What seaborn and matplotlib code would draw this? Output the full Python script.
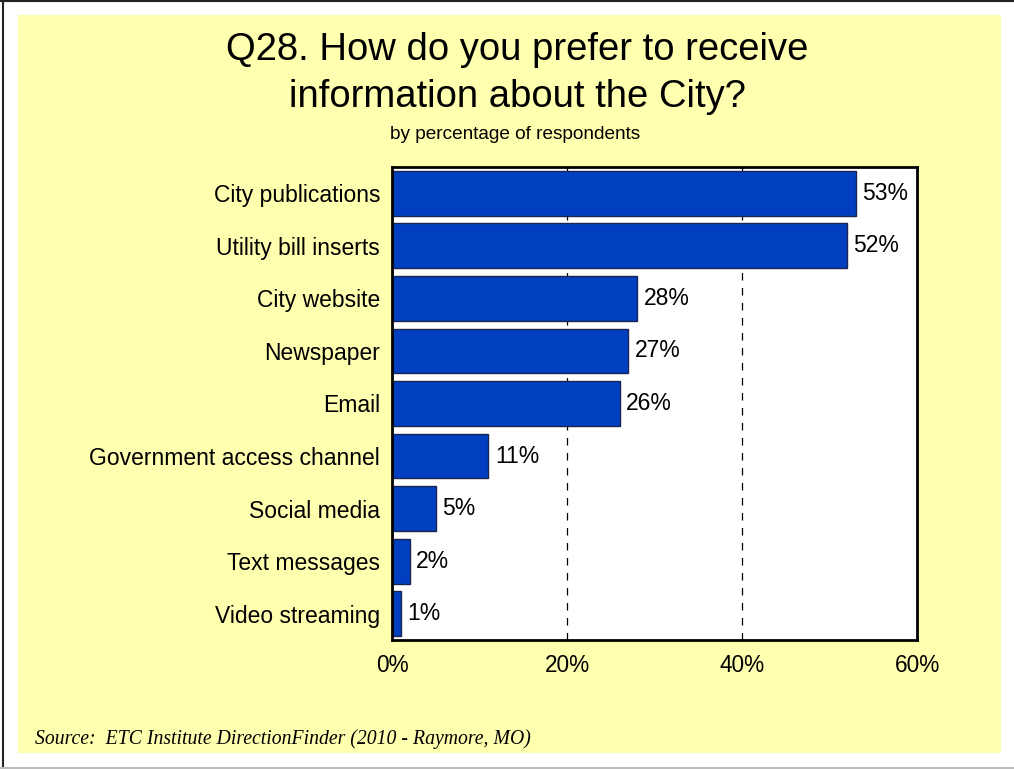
import matplotlib
matplotlib.use("Agg")
import matplotlib.pyplot as plt
import seaborn as sns
import pandas as pd
from matplotlib.patches import Rectangle
from matplotlib.lines import Line2D

# Survey responses: preferred ways of receiving information about the City
channels = [
    "City publications",
    "Utility bill inserts",
    "City website",
    "Newspaper",
    "Email",
    "Government access channel",
    "Social media",
    "Text messages",
    "Video streaming",
]
percents = [53, 52, 28, 27, 26, 11, 5, 2, 1]
tick_values = [0, 20, 40, 60]
tick_labels = ["0%", "20%", "40%", "60%"]

df = pd.DataFrame({"channel": channels, "pct": percents})

sns.set_theme(style="white")
plt.rcParams["font.family"] = ["Liberation Sans", "DejaVu Sans"]
plt.rcParams["text.color"] = "black"
plt.rcParams["xtick.color"] = "black"
plt.rcParams["ytick.color"] = "black"

W, H = 1014, 769
fig = plt.figure(figsize=(W / 100, H / 100), dpi=100)
fig.patch.set_facecolor("white")

# slide background panel and frame
fig.add_artist(Rectangle((18 / W, 1 - 753 / H), (1001 - 18) / W, (753 - 15) / H,
                         transform=fig.transFigure, facecolor="#FFFFB0",
                         edgecolor="none", zorder=0))
fig.add_artist(Line2D([0, 1], [1 - 0.5 / H, 1 - 0.5 / H], transform=fig.transFigure,
                      color="#222222", lw=1.5))
fig.add_artist(Line2D([2.5 / W, 2.5 / W], [1 - 768 / H, 1], transform=fig.transFigure,
                      color="#222222", lw=1.5))
fig.add_artist(Line2D([0, 1], [1 - 768 / H, 1 - 768 / H], transform=fig.transFigure,
                      color="#BBBBBB", lw=1.5))

ax = fig.add_axes([392 / W, 1 - 640 / H, 525 / W, 473 / H])
ax.set_facecolor("white")

sns.barplot(data=df, x="pct", y="channel", orient="h", color="#0040C0",
            saturation=1, edgecolor="#1C2450", linewidth=1.0, width=0.85, ax=ax)

ax.set_xlim(0, 60)
ax.set_ylim(len(channels) - 0.5, -0.5)
ax.set_xticks(tick_values)
ax.set_xticklabels(tick_labels, fontsize=16.3)
ax.tick_params(axis="x", length=0, pad=10, colors="black")
ax.tick_params(axis="y", length=0, pad=8.5, labelsize=16.5, colors="black")
ax.set_xlabel("")
ax.set_ylabel("")

for x in tick_values[1:-1]:
    ax.axvline(x, color="black", lw=0.9, ls=(0, (6, 6)), zorder=0.5)

for s in ax.spines.values():
    s.set_visible(True)
    s.set_color("black")
    s.set_linewidth(2)

for i, v in enumerate(percents):
    ax.text(v + 0.75, i, f"{v}%", va="center", ha="left", fontsize=16.5, color="black")

fig.text(517 / W, 1 - 60 / H, "Q28. How do you prefer to receive",
         ha="center", va="baseline", fontsize=27.5, color="black")
fig.text(517 / W, 1 - 107 / H, "information about the City?",
         ha="center", va="baseline", fontsize=27.5, color="black")
fig.text(515 / W, 1 - 139 / H, "by percentage of respondents",
         ha="center", va="baseline", fontsize=13.7, color="black")
fig.text(35 / W, 1 - 744 / H, "Source:  ETC Institute DirectionFinder (2010 - Raymore, MO)",
         ha="left", va="baseline", fontsize=14.2, style="italic",
         family=["Liberation Serif", "DejaVu Serif"], color="black")

fig.savefig("out.png", dpi=100, facecolor=fig.get_facecolor())
